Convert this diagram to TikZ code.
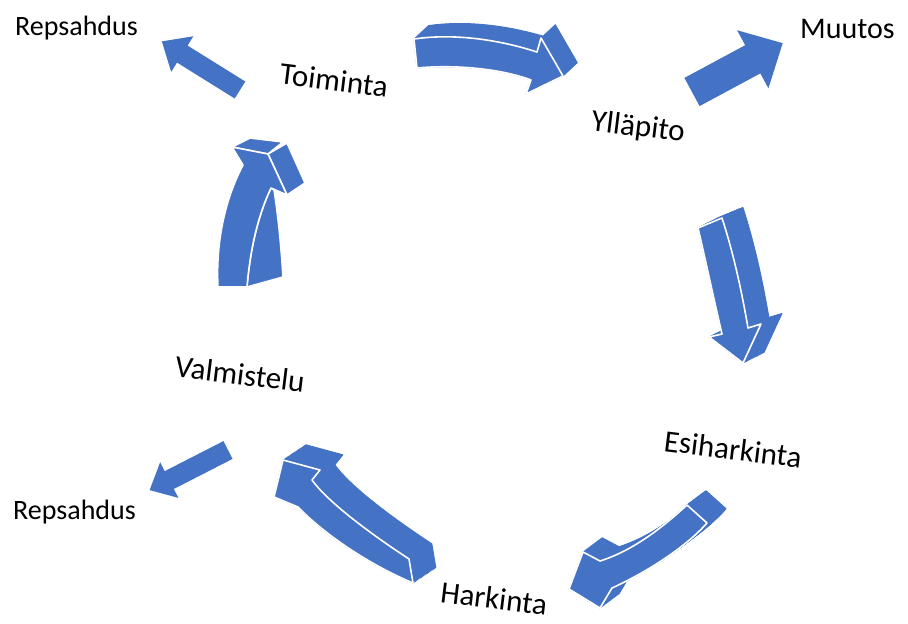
\documentclass[tikz,border=0pt]{standalone}
\usepackage{fontspec}
\setmainfont{Carlito}
\definecolor{arrowblue}{HTML}{4472C4}
\newcommand\extrudearrow[3]{%
  \foreach \t in {0,0.05,...,1.0} {\filldraw[arrowblue,line width=1pt,line join=round,shift={({\t*(#1)},{\t*(#2)})}] #3;}
  \filldraw[face] #3;}
\newcommand\straightarrow[7]{% tail x,y ; angle ; length ; shaft half ; head half ; head length
  \fill[arrowblue,shift={(#1,#2)},rotate=#3] (0,-#5) -- ({#4-#7},-#5) -- ({#4-#7},-#6) -- (#4,0) -- ({#4-#7},#6) -- ({#4-#7},#5) -- (0,#5) -- cycle;}
\begin{document}
\begin{tikzpicture}[x=1pt,y=-1pt,
  face/.style={fill=arrowblue,draw=white,line width=1.6pt,line join=round},
  stage/.style={font=\fontsize{31}{36}\selectfont,inner sep=0pt,rotate=-7},
  side/.style={font=\fontsize{28}{32}\selectfont,inner sep=0pt,anchor=base west},
]
\useasboundingbox (0,0) rectangle (908,624);

% labels
\node[side] (rep1) at (15,35) {Repsahdus};
\node[side,font=\fontsize{30}{34}\selectfont] (muutos) at (800,38) {Muutos};
\node[side] (rep2) at (13,519) {Repsahdus};
\node[stage] (toiminta) at (334,80) {Toiminta};
\node[stage] (yllapito) at (638,128) {Ylläpito};
\node[stage] (valmistelu) at (240,374) {Valmistelu};
\node[stage] (esiharkinta) at (733,449) {Esiharkinta};
\node[stage] (harkinta) at (494,598) {Harkinta};

% straight arrows
\straightarrow{240}{90}{148.1}{92}{10}{21}{24}
\straightarrow{692}{92}{28.3}{103}{16}{33}{34}
\straightarrow{228}{450}{207.1}{88}{10}{20}{22}

% A: Toiminta -> Yllapito
\extrudearrow{15}{-14}{(414,39) .. controls (455,33) and (500,40) .. (537,52) -- (541,38) -- (563,76) -- (526,94) -- (531,80) .. controls (505,70) and (460,64) .. (417,68) -- cycle}

% B: Yllapito -> Esiharkinta
\extrudearrow{22}{-11}{(698,228) .. controls (706,262) and (714,300) .. (722,334) -- (709,337) -- (743,363) -- (761,324) -- (748,328) .. controls (742,293) and (734,255) .. (722,218) -- cycle}

% C: Esiharkinta -> Harkinta
\extrudearrow{20}{-15}{(687,505) .. controls (665,525) and (635,550) .. (600,561) -- (583,552) -- (569,589) -- (600,608) -- (612,588) .. controls (645,573) and (685,548) .. (707,523) -- cycle}

% D: Harkinta -> Valmistelu
\extrudearrow{24}{-16}{(409,559) .. controls (380,540) and (330,505) .. (312,480) -- (320,470) -- (283,460) -- (274,497) -- (298,507) .. controls (325,535) and (370,565) .. (413,583) -- cycle}

% E: Valmistelu -> Toiminta
\filldraw[face] (271,188) .. controls (258,215) and (250,250) .. (247,287) -- (283,277) .. controls (281,245) and (278,215) .. (274,190) -- cycle;
\filldraw[face] (232,147) -- (250,138) -- (283,142) -- (268,154) -- cycle;
\filldraw[face] (268,154) -- (287,143) -- (305,183) -- (287,195) -- cycle;
\filldraw[face] (218,287) .. controls (216,250) and (222,205) .. (243,165) -- (232,147) -- (268,154) -- (287,195) -- (271,188) .. controls (258,215) and (250,250) .. (247,287) -- cycle;
\end{tikzpicture}
\end{document}
